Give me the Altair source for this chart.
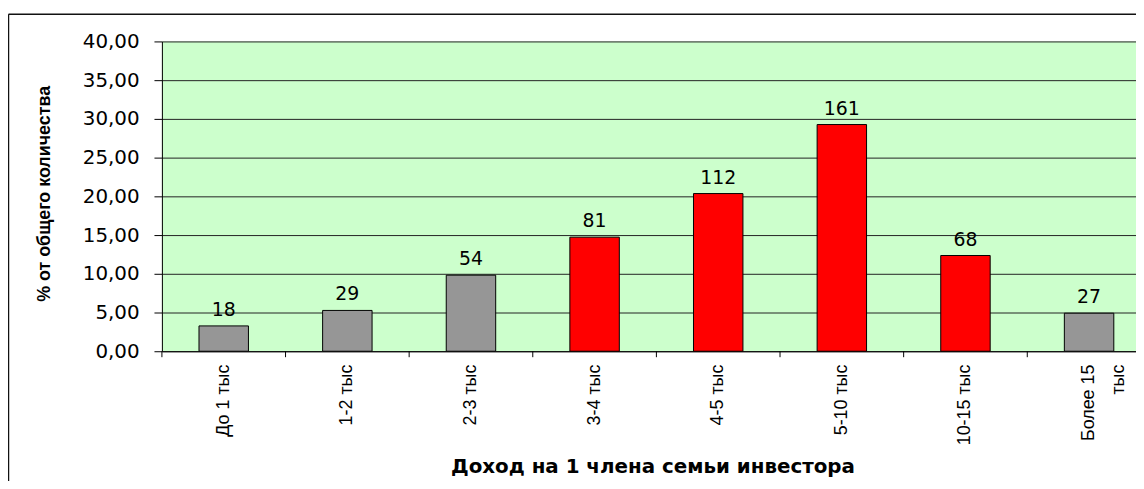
import altair as alt
import pandas as pd

categories = ["До 1 тыс", "1-2 тыс", "2-3 тыс", "3-4 тыс", "4-5 тыс", "5-10 тыс", "10-15 тыс", "Более 15|тыс"]
counts = [18, 29, 54, 81, 112, 161, 68, 27]
percents = [3.27, 5.27, 9.82, 14.73, 20.36, 29.27, 12.36, 4.91]
groups = ["low", "low", "low", "high", "high", "high", "high", "low"]
y_ticks = [0, 5, 10, 15, 20, 25, 30, 35, 40]

df = pd.DataFrame({"cat": categories, "count": counts, "pct": percents, "grp": groups})

W, H = 981, 312
RANGE = [0, 996]
WIDE = "DejaVu Sans, Verdana, sans-serif"
SANS = "Liberation Sans, Arial, sans-serif"

xband = alt.Scale(domain=categories, range=RANGE, paddingInner=0.6, paddingOuter=0.3)
yscale = alt.Scale(domain=[0, 40], nice=False)

xaxis = alt.Axis(title="Доход на 1 члена семьи инвестора", labelAngle=-90,
                 labelAlign="right", labelBaseline="middle",
                 labelExpr="split(datum.label, '|')",
                 labelFont=SANS, labelFontSize=18, labelLineHeight=30,
                 labelColor="black", labelPadding=13, ticks=False, tickSize=0,
                 domainColor="black", domainWidth=1,
                 titleFont=WIDE, titleFontSize=20, titleFontWeight="bold",
                 titleColor="black", titleX=494, titleY=122,
                 titleAlign="center", titleBaseline="alphabetic",
                 labelOverlap=False, grid=False)

yaxis = alt.Axis(title="% от общего количества", values=y_ticks,
                 labelExpr="replace(format(datum.value, '.2f'), '.', ',')",
                 labelFont=WIDE, labelFontSize=20, labelColor="black",
                 labelPadding=15, tickSize=8, tickColor="black", tickWidth=1,
                 domainColor="black", domainWidth=1, labelOverlap=False,
                 grid=True, gridColor="#222222", gridWidth=1,
                 titleFont=SANS, titleFontSize=18,
                 titleFontWeight="bold", titleColor="black",
                 titleX=-118, titleY=153, titleAngle=-90,
                 titleAlign="center", titleBaseline="middle")

base = alt.Chart(df)

bars = base.mark_bar(stroke="black", strokeWidth=1).encode(
    x=alt.X("cat:N", sort=categories, scale=xband, axis=xaxis),
    y=alt.Y("pct:Q", scale=yscale, axis=yaxis),
    color=alt.Color("grp:N", scale=alt.Scale(domain=["low", "high"], range=["#969696", "#FF0000"]),
                    legend=None),
)

labels = base.mark_text(font=WIDE, fontSize=19, color="black",
                        baseline="alphabetic", dy=-10).encode(
    x=alt.X("cat:N", sort=categories, scale=xband, axis=None),
    y=alt.Y("pct:Q", scale=yscale, axis=yaxis),
    text=alt.Text("count:Q"),
)

ticks = base.mark_rule(color="black", strokeWidth=1).encode(
    x=alt.X("cat:N", sort=categories, bandPosition=0,
            scale=alt.Scale(domain=categories, range=RANGE, paddingInner=0, paddingOuter=0),
            axis=None),
    y=alt.value(H),
    y2=alt.value(H + 6),
)

frame_data = alt.Data(values=[{"a": 1}])
left_border = alt.Chart(frame_data).mark_rule(color="#111111", strokeWidth=1.5).encode(
    x=alt.value(-154.5), y=alt.value(-27.5), y2=alt.value(H + 200))
top_border = alt.Chart(frame_data).mark_rule(color="#111111", strokeWidth=1.5).encode(
    x=alt.value(-154.5), x2=alt.value(W + 20), y=alt.value(-27.5))

chart = alt.layer(bars, labels, ticks, left_border, top_border).resolve_scale(x="independent").properties(
    width=W, height=H,
    autosize=alt.AutoSizeParams(type="none"),
    padding={"left": 155, "top": 32, "right": 0, "bottom": 129},
    background="white",
).configure_view(fill="#CCFFCC", stroke=None)

chart.save("out.html", embed_options={"renderer": "svg", "actions": False})
